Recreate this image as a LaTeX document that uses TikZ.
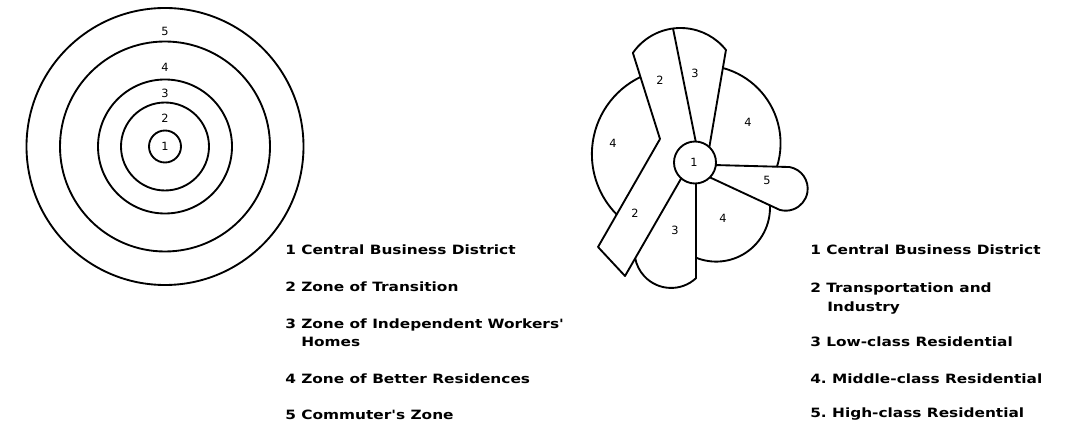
\documentclass[tikz,border=0pt]{standalone}
\usepackage{fontspec}
\setmainfont{DejaVu Sans}
\newfontfamily\legfont[FakeStretch=1.2]{DejaVu Sans}
\usetikzlibrary{calc}
\begin{document}
\begin{tikzpicture}[x=0.75pt,y=-0.75pt,
  zone/.style={draw=black, line width=1.4pt, line join=round},
  num/.style={inner sep=0pt, font=\fontsize{8.5}{9}\selectfont},
  leg/.style={anchor=base west, inner sep=0pt, font=\legfont\bfseries\fontsize{9.6}{12}\selectfont}]
\useasboundingbox (0,0) rectangle (1074,427);

% ---------------- Concentric zone model ----------------
\coordinate (L) at (165,146.5);
\draw[zone] (L) circle[radius=16];
\draw[zone] (L) circle[radius=44];
\draw[zone] (L) circle[radius=67];
\draw[zone] (L) circle[radius=105];
\draw[zone] (L) circle[radius=138.5];
\node[num] (l1) at (165,146.5) {1};
\node[num] (l2) at (165,118) {2};
\node[num] (l3) at (165,93) {3};
\node[num] (l4) at (165,67) {4};
\node[num] (l5) at (165,31) {5};

% ---------------- Sector model ----------------
\coordinate (C) at (695,162.5);
\coordinate (TA) at (680.5,86);
\coordinate (K) at (660,139);
\coordinate (B1) at (598,247);
\coordinate (B2) at (625,276);
\coordinate (CapC) at (785.7,188.7);

\draw[zone] (C) circle[radius=21];
% band 2 upper + top arc of sector 3
\draw[zone] (K) -- ($(TA)+(-145.2:58)$) arc[start angle=-145.2, end angle=-38.4, radius=58]
  -- ($(C)+(-47:21)$);
% divider 2/3
\draw[zone] ($(TA)+(-97.4:58)$) -- ($(C)+(-88:21)$);
% band 2 lower
\draw[zone] (K) -- (B1) -- (B2) -- ($(C)+(131:21)$);
% left sector 4
\draw[zone] (640.5,77) arc[start angle=244.4, end angle=135, radius=85.6];
% upper right sector 4
\draw[zone] (722.9,68) arc[start angle=-74.9, end angle=17.7, radius=78];
% band 5
\draw[zone] ($(C)+(7:21)$) -- ($(CapC)+(-80:22)$) arc[start angle=-80, end angle=106, radius=22]
  -- ($(C)+(45:21)$);
% lower right sector 4
\draw[zone] (769.9,205) arc[start angle=-3, end angle=111.5, radius=53.8];
% lower sector 3
\draw[zone] (696,183.5) -- (696,278.2) arc[start angle=47.2, end angle=169.5, radius=36.6];

\node[num] (r1) at (694,162.5) {1};
\node[num] (r2a) at (660,80) {2};
\node[num] (r3a) at (695,73) {3};
\node[num] (r4a) at (748,122) {4};
\node[num] (r4b) at (613,143) {4};
\node[num] (r5) at (767,180) {5};
\node[num] (r2b) at (635,213) {2};
\node[num] (r3b) at (675,230) {3};
\node[num] (r4c) at (723,218) {4};

% ---------------- Legends ----------------
\node[leg] (a1) at (285,254.5) {1 Central Business District};
\node[leg] (a2) at (285,291.5) {2 Zone of Transition};
\node[leg] (a3) at (285,328.5) {3 Zone of Independent Workers'};
\node[leg] (a3b) at (301,346.5) {Homes};
\node[leg] (a4) at (285,383) {4 Zone of Better Residences};
\node[leg] (a5) at (285,419) {5 Commuter's Zone};

\node[leg] (b1) at (810,254.5) {1 Central Business District};
\node[leg] (b2) at (810,292.5) {2 Transportation and};
\node[leg] (b2b) at (827,311.5) {Industry};
\node[leg] (b3) at (810,347) {3 Low-class Residential};
\node[leg] (b4) at (810,383) {4.\ Middle-class Residential};
\node[leg] (b5) at (810,417) {5.\ High-class Residential};
\end{tikzpicture}
\end{document}
